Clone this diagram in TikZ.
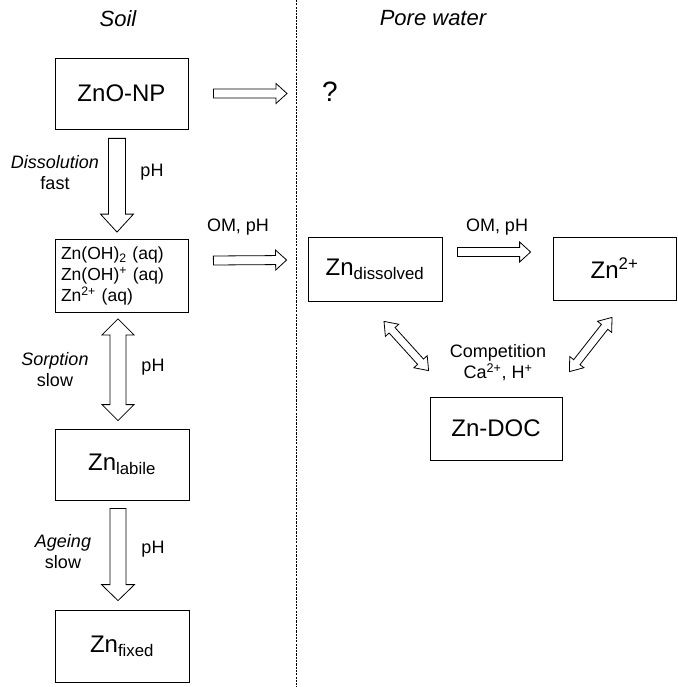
\documentclass[tikz,border=0pt]{standalone}
\usepackage{fontspec}
\setmainfont{Liberation Sans}
\usetikzlibrary{calc}
\tikzset{
  box/.style={draw,line width=0.8pt,inner sep=0pt,font=\fontsize{24}{28}\selectfont},
  big/.style={font=\fontsize{28}{32}\selectfont},
  lab/.style={font=\fontsize{18}{21}\selectfont,align=center},
  ttl/.style={font=\fontsize{22}{26}\selectfont\itshape},
  blk/.style={draw,fill=white,line width=0.8pt,line join=miter},
  sep/.style={draw,line width=0.8pt,dash pattern=on 2.2pt off 1.1pt},
}
% hollow block arrows: #1 shaft half width, #2 head half width, #3 head length, #4 tail, #5 tip
\newcommand\blkarrow[5]{%
  \path (#4) coordinate (ta) (#5) coordinate (tb) ($(tb)!#3!(ta)$) coordinate (tm);
  \draw[blk] ($(ta)!#1!90:(tb)$) -- ($(tm)!#1!-90:(ta)$) -- ($(tm)!#2!-90:(ta)$) -- (tb)
    -- ($(tm)!#2!90:(ta)$) -- ($(tm)!#1!90:(ta)$) -- ($(ta)!#1!-90:(tb)$) -- cycle;
}
\newcommand\dblarrow[5]{%
  \path (#4) coordinate (ta) (#5) coordinate (tb)
    ($(ta)!#3!(tb)$) coordinate (tm) ($(tb)!#3!(ta)$) coordinate (tn);
  \draw[blk] (ta) -- ($(tm)!#2!90:(tb)$) -- ($(tm)!#1!90:(tb)$) -- ($(tn)!#1!-90:(ta)$)
    -- ($(tn)!#2!-90:(ta)$) -- (tb) -- ($(tn)!#2!90:(ta)$) -- ($(tn)!#1!90:(ta)$)
    -- ($(tm)!#1!-90:(tb)$) -- ($(tm)!#2!-90:(tb)$) -- cycle;
}

\begin{document}
\begin{tikzpicture}[x=1pt,y=-1pt]
\useasboundingbox (0,0) rectangle (677,687);
% soil / pore water split
\coordinate (top) at (296,0);
\coordinate (bot) at (296,687);
\draw[sep] (top) -- (bot);
\node[ttl] (soil) at (118,19) {Soil};
\node[ttl] (pore) at (433,18) {Pore water};

% soil column
\node[box,minimum width=133pt,minimum height=71pt] (zno) at (121.5,93.5) {ZnO-NP};
\node[box,font=\fontsize{17.5}{21}\selectfont,minimum width=133pt,minimum height=73pt,
  text width=121pt,align=left] (zoh) at (121.5,276)
  {Zn(OH)\textsubscript{2} (aq)\\Zn(OH)\textsuperscript{+} (aq)\\Zn\textsuperscript{2+} (aq)};
\node[box,minimum width=134pt,minimum height=71pt] (lab) at (122,464.5) {Zn\textsubscript{labile}};
\node[box,minimum width=134pt,minimum height=72pt] (fix) at (122,646) {Zn\textsubscript{fixed}};

% pore water
\node[big] (q) at (330,92) {?};
\node[box,minimum width=134pt,minimum height=64pt] (dis) at (375,269) {Zn\textsubscript{dissolved}};
\node[box,minimum width=123pt,minimum height=63pt] (zn2) at (614.5,268.5) {Zn\textsuperscript{2+}};
\node[box,minimum width=132pt,minimum height=63pt] (doc) at (496,428.5) {Zn-DOC};

% arrow ends
\coordinate (a1s) at ([xshift=25pt]zno.east);
\coordinate (a1e) at (a1s -| top);
\coordinate (a2s) at ([xshift=-4.5pt,yshift=-9pt]zno.south);
\coordinate (a2e) at ([xshift=-4.5pt,yshift=7pt]zoh.north);
\coordinate (a3s) at ([xshift=25pt,yshift=15.5pt]zoh.east);
\coordinate (a3e) at ([xshift=-21pt,yshift=9pt]dis.west);
\coordinate (a4s) at ([xshift=-3.5pt,yshift=-6pt]zoh.south);
\coordinate (a4e) at ([xshift=-4pt,yshift=8pt]lab.north);
\coordinate (a5s) at ([xshift=-4pt,yshift=-8pt]lab.south);
\coordinate (a5e) at ([xshift=-4pt,yshift=9pt]fix.north);
\coordinate (a6s) at ([xshift=15pt,yshift=17pt]dis.east);
\coordinate (a6e) at ([xshift=-22pt,yshift=16.5pt]zn2.west);
\coordinate (a7s) at ([xshift=9pt,yshift=-20pt]dis.south);
\coordinate (a7e) at ([xshift=-1pt,yshift=26pt]doc.north west);
\coordinate (a8s) at ([xshift=-2.5pt,yshift=-17pt]zn2.south);
\coordinate (a8e) at ([xshift=7pt,yshift=25pt]doc.north east);

\blkarrow{4.5pt}{10pt}{11pt}{a1s}{[xshift=-9pt]a1e}
\blkarrow{8.5pt}{16.5pt}{18pt}{a2s}{a2e}
\blkarrow{4.5pt}{10pt}{11pt}{a3s}{a3e}
\dblarrow{8pt}{16pt}{16pt}{a4s}{a4e}
\blkarrow{8pt}{16.5pt}{16pt}{a5s}{a5e}
\blkarrow{4.5pt}{10pt}{11pt}{a6s}{a6e}
\dblarrow{4pt}{9pt}{12pt}{a7s}{a7e}
\dblarrow{4pt}{9pt}{12pt}{a8s}{a8e}

% labels
\node[lab] (l1) at (55,173) {\textit{Dissolution}\\fast};
\node[lab] (p1) at (152,172) {pH};
\node[lab] (om1) at (238,227) {OM, pH};
\node[lab] (l2) at (55,370) {\textit{Sorption}\\slow};
\node[lab] (p2) at (153,367) {pH};
\node[lab] (l3) at (63,552) {\textit{Ageing}\\slow};
\node[lab] (p3) at (153,549) {pH};
\node[lab] (om2) at (497,227) {OM, pH};
\node[lab] (comp) at (498,363) {Competition\\Ca\textsuperscript{2+}, H\textsuperscript{+}};
\end{tikzpicture}
\end{document}
